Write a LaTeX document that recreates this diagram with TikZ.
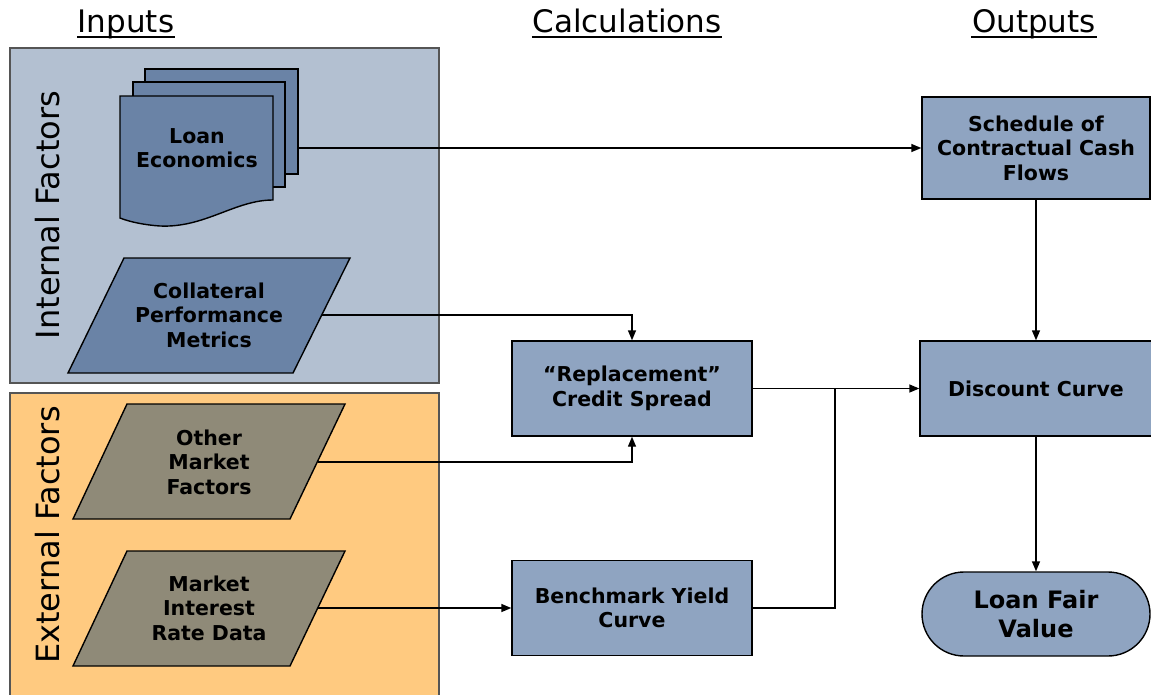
\documentclass[tikz,border=0pt]{standalone}
\usepackage{fontspec}
\setmainfont{DejaVu Sans}
\usepackage{tikz}
\usetikzlibrary{shapes.geometric,arrows.meta,positioning}
\definecolor{intbg}{HTML}{B3C0D1}
\definecolor{extbg}{HTML}{FFCA80}
\definecolor{docblue}{HTML}{6A83A6}
\definecolor{calcblue}{HTML}{8FA4C1}
\definecolor{mktgray}{HTML}{8F8A78}
\definecolor{edgegray}{HTML}{555555}

\begin{document}
\begin{tikzpicture}
[x=1pt,y=-1pt,>={Stealth[length=10pt,width=8pt,inset=0pt]},line width=1.4pt,
 calc/.style = {draw, rectangle, fill=calcblue, align=center, minimum width=240pt, minimum height=95pt, inner sep=2pt, font=\fontsize{20.5}{24.5}\selectfont\bfseries},
 label/.style = {align=center, font=\fontsize{20.5}{24.5}\selectfont\bfseries},
 head/.style = {inner sep=0pt, anchor=base, font=\fontsize{31}{36}\selectfont},
 side/.style = {rotate=90, font=\fontsize{32}{36}\selectfont},]
\useasboundingbox (0,0) rectangle (1151,694);

% headings
\node[head] (hin) at (126,32) {Inputs};
\node[head] (hcalc) at (627,32) {Calculations};
\node[head] (hout) at (1034,32) {Outputs};
\foreach \h in {hin,hcalc,hout}
  \draw[line width=2pt] ([yshift=-5pt]\h.base west) -- ([yshift=-5pt]\h.base east);

% input panels
\draw[edgegray,fill=intbg] (10,48) rectangle (439,383);
\draw[edgegray,fill=extbg] (10,393) rectangle (439,700);
\node[side] (intl) at (48,215) {Internal Factors};
\node[side] (extl) at (48,535) {External Factors};

% loan economics (stack of documents)
\draw[fill=docblue] (145,69) rectangle (298,174);
\draw[fill=docblue] (133,82) rectangle (285,187);
\draw[fill=docblue] (120,96) -- (273,96) -- (273,200)
  .. controls (235,200) and (205,228) .. (160,226)
  .. controls (145,225) and (130,222) .. (120,218) -- cycle;
\node[label] (loan) at (197,148) {Loan\\Economics};
\coordinate (loan-e) at (298,148);

% parallelograms
\draw[fill=docblue] (68,373) -- (124,258) -- (350,258) -- (293,373) -- cycle;
\node[label] (coll) at (209,315) {Collateral\\Performance\\Metrics};
\coordinate (coll-e) at (322,315);
\draw[fill=mktgray] (73,519) -- (127,404) -- (345,404) -- (290,519) -- cycle;
\node[label] (other) at (209,462) {Other\\Market\\Factors};
\coordinate (other-e) at (318,462);
\draw[fill=mktgray] (73,666) -- (127,551) -- (345,551) -- (290,666) -- cycle;
\node[label] (rate) at (209,608) {Market\\Interest\\Rate Data};
\coordinate (rate-e) at (318,608);

% calculations
\node[calc] (repl) at (632,388.5) {``Replacement''\\Credit Spread};
\node[calc] (bench) at (632,608) {Benchmark Yield\\Curve};
\coordinate (join) at (835,388.5);

% outputs
\node[calc,minimum width=228pt,minimum height=102pt] (sched) at (1036,148) {Schedule of\\Contractual Cash\\Flows};
\node[calc,minimum width=232pt] (disc) at (1036,388.5) {Discount Curve};
\node[calc,minimum width=228pt,minimum height=84pt,rounded corners=42pt,font=\fontsize{24}{29}\selectfont\bfseries] (fair) at (1036,614) {Loan Fair\\Value};

\draw[->] (loan-e) -- (sched.west);
\draw[->] (coll-e) -| (repl.north);
\draw[->] (other-e) -| (repl.south);
\draw[->] (rate-e) -- (bench.west);
\draw[->] (repl.east) -- (disc.west);
\draw (bench.east) -| (join);
\draw[->] (sched.south) -- (disc.north);
\draw[->] (disc.south) -- (fair.north);
\end{tikzpicture}
\end{document}
